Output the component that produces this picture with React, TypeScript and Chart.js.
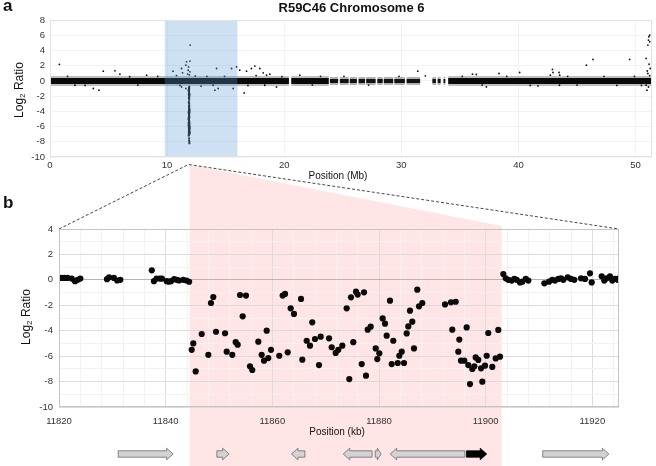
import React, { useEffect, useRef } from 'react';
import { Chart, registerables } from 'chart.js';
Chart.register(...registerables);

const FONT = "'Liberation Sans', Arial, Helvetica, sans-serif";
Chart.defaults.font.family = FONT;

// ---------- Panel a: whole chromosome 6 (Mb) ----------
const aXTicks = [0, 10, 20, 30, 40, 50];
const aYTicks = [-10, -8, -6, -4, -2, 0, 2, 4, 6, 8];
const aXMax = 51.4;
// dense probe coverage (log2 ~ 0) as segments [start, end] in Mb
const denseSegmentsMb: [number, number][] = [
  [0.0, 20.4], [20.6, 23.8], [34.0, 51.35],
];
const sparseSegmentsMb: [number, number][] = [
  [23.9, 24.6], [24.75, 25.5], [25.6, 26.2], [26.35, 26.9], [27.0, 27.8], [27.95, 28.4],
  [28.5, 29.3], [29.4, 30.3], [30.45, 31.6], [32.65, 32.95], [33.1, 33.35], [33.6, 33.75],
];
const outlierMb = [
  0.8, 4.55, 5.55, 5.97, 3.7, 4.18, 2.13, 8.25, 10.5, 11.23, 11.32, 11.6, 11.66, 11.83, 11.95, 11.95,
  11.97, 11.23, 11.6, 11.75, 11.8, 11.9, 13.93, 14.08, 14.22, 14.36, 15.5, 15.64, 15.93, 16.2, 16.58,
  16.78, 17.2, 17.49, 17.92, 18.2, 18.49, 18.77, 18.34, 19.34, 21.33, 31.4, 32.05, 36.07, 36.4, 37.26,
  38.34, 40.1, 41.67, 42.72, 42.9, 42.95, 43.46, 43.52, 43.5, 45.8, 46.36, 49.49, 50.9, 51.05, 51.13,
  51.2, 51.2, 51.1, 51.25, 51.05, 50.9, 50.97, 51.15, 51.0, 51.2, 51.1,
  1.5, 3.0, 6.8, 7.5, 9.2, 10.8, 11.1, 12.4, 12.9, 13.4, 14.9, 16.9, 17.6, 19.8, 22.4, 23.1, 25.1,
  27.2, 29.8, 35.2, 36.9, 39.0, 41.0, 44.2, 45.0, 47.3, 48.4, 49.9, 50.5,
];
const outlierLog2 = [
  2.16, 1.28, 1.32, 0.88, -1.0, -1.22, -0.57, 0.75, 1.28, 1.63, 1.06, 2.07, 2.5, 1.84, 1.19, 2.6,
  4.7, -0.79, -1.0, 0.9, 1.4, 0.8, -0.57, -1.22, 1.63, -1.0, 1.63, -1.0, 1.84, 1.41, -1.58,
  1.28, 1.63, 1.94, 1.63, 1.06, 0.75, 0.88, -0.57, -0.79, 0.75, 1.28, 0.66, 0.88, 0.84, -0.79,
  0.97, 1.1, -0.66, 0.75, 1.5, 1.1, 1.1, 0.75, -0.57, 2.07, 2.82, 2.82, 2.95, 4.7, 5.8,
  5.14, 6.0, 5.36, 1.63, 0.97, -0.57, -1.22, 2.2, 1.3, 0.7, -0.8,
  0.6, -0.6, 0.55, -0.55, 0.6, 0.7, -0.6, 0.65, -0.7, 0.6, 0.6, -0.6, 0.7, 0.55, -0.55, 0.6, 0.6,
  -0.55, 0.6, 0.6, -0.55, 0.6, -0.6, 0.6, -0.55, 0.6, -0.6, 0.6, -0.6,
];
const shadedStartMb = 9.8;
const shadedEndMb = 16.0;
const zoomAnchorMb = 11.82;

// ---------- Panel b: zoom (kb) ----------
const bXMin = 11820;
const bXMax = 11925;
const bYMin = -10;
const bYMax = 4;
const flankLeftKb = [
  11820.4, 11821.0, 11821.6, 11822.4, 11823.0, 11823.5, 11824.0,
  11829.0, 11829.4, 11830.3, 11830.9, 11831.5,
  11837.4, 11837.8, 11838.3, 11838.9, 11839.3, 11840.2, 11840.6, 11841.0, 11841.6, 11842.1, 11842.5,
  11843.3, 11843.9, 11844.4,
];
const flankLeftLog2 = [
  0.15, 0.15, 0.15, 0.1, -0.1, 0.0, 0.1,
  0.05, 0.2, 0.15, -0.05, 0.0,
  0.75, -0.1, 0.1, 0.1, 0.1, -0.1, -0.15, -0.1, 0.05, 0.0, -0.05,
  0.0, -0.05, -0.15,
];
const deletedKb = [
  11844.88, 11845.18, 11845.63, 11846.76, 11848.0, 11848.5, 11848.93, 11849.44, 11851.13, 11851.44,
  11852.49, 11853.13, 11853.5, 11853.94, 11854.44, 11855.06, 11855.81, 11856.24, 11857.37, 11858.0,
  11858.44, 11858.94, 11859.24, 11859.75, 11861.3, 11861.94, 11862.38, 11862.88, 11863.44, 11864.06,
  11865.38, 11865.62, 11866.44, 11867.06, 11867.49, 11868.0, 11868.75, 11869.07, 11870.63, 11871.13,
  11871.88, 11872.37, 11873.12, 11873.94, 11874.43, 11874.75, 11875.18, 11875.69, 11876.0, 11876.76,
  11877.19, 11877.56, 11877.88, 11878.44, 11879.38, 11879.68, 11880.06, 11880.69, 11881.13, 11881.44,
  11882.06, 11882.38, 11882.68, 11883.51, 11883.81, 11884.26, 11884.69, 11885.19, 11885.49, 11885.81,
  11886.24, 11886.56, 11887.18, 11887.5, 11888.12, 11892.38, 11893.5, 11893.74, 11894.38, 11894.87,
  11895.06, 11895.38, 11896.0, 11896.44, 11896.74, 11897.06, 11897.49, 11897.87, 11898.13, 11898.62,
  11899.13, 11899.37, 11899.88, 11900.19, 11900.49, 11901.24, 11901.88, 11902.37, 11902.69,
];
const deletedLog2 = [
  -5.5, -5.0, -7.2, -4.26, -5.9, -1.82, -1.35, -4.08, -4.2, -5.65,
  -5.9, -4.9, -5.1, -1.19, -2.87, -1.24, -6.8, -7.09, -4.86, -5.9,
  -6.36, -4.0, -6.15, -5.5, -5.97, -1.24, -1.11, -5.7, -2.24, -2.68,
  -1.5, -6.28, -4.79, -5.18, -3.34, -4.65, -6.7, -4.47, -4.6, -5.3,
  -5.75, -5.5, -5.18, -2.24, -7.8, -1.37, -4.9, -0.93, -1.16, -6.62,
  -0.98, -7.54, -3.92, -3.68, -5.39, -6.23, -5.78, -3.03, -3.45, -4.39,
  -1.64, -6.62, -4.79, -6.54, -5.97, -5.65, -6.54, -4.21, -3.66, -2.42,
  -3.29, -5.39, -0.77, -2.08, -1.82, -1.93, -1.77, -3.92, -1.72, -5.65,
  -4.7, -6.36, -6.36, -3.74, -6.7, -8.2, -7.01, -6.8, -6.1, -6.3,
  -6.96, -8.01, -6.75, -5.97, -4.18, -6.85, -6.18, -3.94, -6.04,
];
const flankRightKb = [
  11903.31, 11903.76, 11904.24, 11904.88, 11905.37, 11905.82, 11906.44, 11906.87, 11907.51, 11908.0,
  11911.0, 11911.88, 11912.49, 11913.0, 11913.62, 11914.13, 11914.56, 11915.38, 11916.0, 11916.62,
  11917.88, 11918.63, 11919.56, 11919.88, 11921.76, 11922.24, 11922.69, 11923.31, 11923.74, 11924.25,
  11924.76, 11925.0,
];
const flankRightLog2 = [
  0.46, 0.12, 0.0, -0.06, 0.07, 0.0, -0.2, -0.14, 0.07, -0.06,
  -0.27, -0.14, 0.0, -0.06, 0.07, 0.12, 0.0, 0.2, 0.07, 0.0,
  0.12, 0.07, 0.51, -0.2, 0.28, -0.06, 0.12, 0.28, -0.06, 0.07,
  0.0, 0.12,
];
const deletionStartKb = 11844.5;
const deletionEndKb = 11903.0;
// genes below panel b
const geneStartKb = [11831.1, 11849.6, 11863.6, 11873.3, 11879.3, 11882.1, 11896.4, 11910.7];
const geneEndKb = [11841.4, 11851.9, 11866.1, 11878.7, 11880.4, 11896.1, 11900.2, 11923.1];
const geneStrand = [1, 1, -1, -1, 1, -1, 1, 1];
const geneHighlighted = [false, false, false, false, false, false, true, false];

const W = 656;
const H = 466;

const range = (a: number, b: number, s: number) => {
  const out: number[] = [];
  for (let v = a; v <= b + 1e-9; v += s) out.push(v);
  return out;
};

const segData = (segs: [number, number][]) => {
  const d: any[] = [];
  segs.forEach(([s, e]) => {
    d.push({ x: s, y: 0 }, { x: e, y: 0 }, { x: e, y: null });
  });
  return d;
};
const pts = (xs: number[], ys: number[], k = 1) => xs.map((x, i) => ({ x: x * k, y: ys[i] }));

const framePlugin = (color: string) => ({
  id: 'frame',
  afterDraw(chart: any) {
    const { ctx, chartArea: a } = chart;
    ctx.save();
    ctx.strokeStyle = color;
    ctx.lineWidth = 1;
    ctx.strokeRect(a.left + 0.5, a.top + 0.5, a.right - a.left - 1, a.bottom - a.top - 1);
    ctx.restore();
  },
});

export default function App() {
  const bgRef = useRef<HTMLCanvasElement>(null);
  const aRef = useRef<HTMLCanvasElement>(null);
  const bRef = useRef<HTMLCanvasElement>(null);

  useEffect(() => {
    const shadePlugin = {
      id: 'shade',
      afterDatasetsDraw(chart: any) {
        const { ctx, chartArea: a, scales } = chart;
        const x1 = scales.x.getPixelForValue(shadedStartMb);
        const x2 = scales.x.getPixelForValue(shadedEndMb);
        ctx.save();
        ctx.fillStyle = 'rgba(91,155,213,0.3)';
        ctx.fillRect(x1, a.top, x2 - x1, a.bottom - a.top);
        ctx.restore();
      },
    };
    const tickFont = { size: 9.5 };
    const band = (segs: [number, number][], color: string, width: number) => ({
      type: 'line', data: segData(segs), borderColor: color, borderWidth: width,
      borderCapStyle: 'butt', pointRadius: 0, spanGaps: false,
    } as any);
    const chartA = new Chart(aRef.current!, {
      type: 'scatter',
      data: {
        datasets: [
          band(denseSegmentsMb, 'rgba(0,0,0,0.25)', 10),
          band(denseSegmentsMb, '#0d0d0d', 6),
          band(sparseSegmentsMb, 'rgba(0,0,0,0.3)', 8),
          band(sparseSegmentsMb, '#1a1a1a', 4),
          { data: pts(outlierMb, outlierLog2), pointRadius: 0.9, backgroundColor: '#111', borderWidth: 0 },
          { data: pts(deletedKb, deletedLog2, 0.001), pointRadius: 1.1, backgroundColor: '#111', borderWidth: 0 },
        ],
      },
      options: {
        responsive: false, animation: false,
        layout: { padding: { top: 20, right: 4, bottom: H - 185, left: 0 } },
        plugins: { legend: { display: false }, tooltip: { enabled: false } },
        scales: {
          x: {
            type: 'linear', min: 0, max: aXMax,
            afterBuildTicks: (s: any) => { s.ticks = aXTicks.map((v) => ({ value: v })); },
            afterFit: (s: any) => { s.height = 28; },
            grid: { color: '#f3f3f3', drawTicks: false },
            border: { display: false },
            ticks: { padding: 3, font: tickFont, color: '#333', maxRotation: 0, autoSkip: false, callback: (v: any) => String(v) },
          },
          y: {
            min: -10, max: 8,
            afterBuildTicks: (s: any) => { s.ticks = aYTicks.map((v) => ({ value: v })); },
            afterFit: (s: any) => { s.width = 50; },
            grid: { color: '#f3f3f3', drawTicks: false },
            border: { display: false },
            ticks: { padding: 5, font: tickFont, color: '#333', autoSkip: false, callback: (v: any) => String(v) },
          },
        },
      },
      plugins: [shadePlugin, framePlugin('#e2e2e2')],
    });

    const genePlugin = {
      id: 'genes',
      afterDraw(chart: any) {
        const { ctx, scales } = chart;
        const yc = 454;
        const bodyH = 3.2;
        const headH = 5.8;
        geneStartKb.forEach((s, i) => {
          const x1 = scales.x.getPixelForValue(s);
          const x2 = scales.x.getPixelForValue(geneEndKb[i]);
          const len = x2 - x1;
          const head = Math.min(6.5, len * 0.65);
          ctx.save();
          ctx.beginPath();
          if (geneStrand[i] > 0) {
            const hb = x2 - head;
            ctx.moveTo(x1, yc - bodyH);
            ctx.lineTo(hb, yc - bodyH);
            ctx.lineTo(hb, yc - headH);
            ctx.lineTo(x2, yc);
            ctx.lineTo(hb, yc + headH);
            ctx.lineTo(hb, yc + bodyH);
            ctx.lineTo(x1, yc + bodyH);
          } else {
            const hb = x1 + head;
            ctx.moveTo(x2, yc - bodyH);
            ctx.lineTo(hb, yc - bodyH);
            ctx.lineTo(hb, yc - headH);
            ctx.lineTo(x1, yc);
            ctx.lineTo(hb, yc + headH);
            ctx.lineTo(hb, yc + bodyH);
            ctx.lineTo(x2, yc + bodyH);
          }
          ctx.closePath();
          ctx.fillStyle = geneHighlighted[i] ? '#000' : '#d3d3d3';
          ctx.fill();
          ctx.strokeStyle = geneHighlighted[i] ? '#000' : '#6a6a6a';
          ctx.lineWidth = 0.8;
          ctx.stroke();
          ctx.restore();
        });
      },
    };

    const bYTicks = range(bYMin, bYMax, 1);
    const bXTicks = range(bXMin, bXMax - 1, 4);
    const dot = { pointRadius: 3.1, backgroundColor: '#0a0a0a', borderWidth: 0 };
    const chartB = new Chart(bRef.current!, {
      type: 'scatter',
      data: {
        datasets: [
          { data: pts(flankLeftKb, flankLeftLog2), ...dot },
          { data: pts(deletedKb, deletedLog2), ...dot },
          { data: pts(flankRightKb, flankRightLog2), ...dot },
        ],
      },
      options: {
        responsive: false, animation: false,
        layout: { padding: { top: 229, right: W - 619, bottom: 0, left: 0 } },
        plugins: { legend: { display: false }, tooltip: { enabled: false } },
        scales: {
          x: {
            type: 'linear', min: bXMin, max: bXMax,
            afterBuildTicks: (s: any) => { s.ticks = bXTicks.map((v) => ({ value: v })); },
            afterFit: (s: any) => { s.height = H - 407; },
            grid: {
              drawTicks: false,
              color: (c: any) => (c.tick && c.tick.value % 20 === 0 ? '#dddddd' : '#f2f2f2'),
            },
            border: { display: false },
            ticks: {
              padding: 9, font: tickFont, color: '#333', maxRotation: 0, autoSkip: false,
              callback: (v: any) => (v % 20 === 0 ? String(v) : ''),
            },
          },
          y: {
            min: bYMin, max: bYMax,
            afterBuildTicks: (s: any) => { s.ticks = bYTicks.map((v) => ({ value: v })); },
            afterFit: (s: any) => { s.width = 59; },
            grid: {
              drawTicks: false,
              color: (c: any) => {
                const v = c.tick ? c.tick.value : 1;
                if (v === 0) return '#b5b5b5';
                return v % 2 === 0 ? '#dcdcdc' : '#f2f2f2';
              },
            },
            border: { display: false },
            ticks: {
              padding: 6, font: tickFont, color: '#333', autoSkip: false,
              callback: (v: any) => (v % 2 === 0 ? String(v) : ''),
            },
          },
        },
      },
      plugins: [framePlugin('#c4c4c4'), genePlugin],
    });

    // background: highlighted deletion and zoom connector
    const bg = bgRef.current!;
    const ctx = bg.getContext('2d')!;
    ctx.clearRect(0, 0, W, H);
    const ax = chartA.scales.x.getPixelForValue(zoomAnchorMb);
    const ay = chartA.chartArea.bottom + 7.5;
    const bA = chartB.chartArea;
    const pL = chartB.scales.x.getPixelForValue(deletionStartKb);
    const pR = chartB.scales.x.getPixelForValue(deletionEndKb);
    ctx.fillStyle = 'rgba(255,0,0,0.1)';
    ctx.beginPath();
    ctx.moveTo(ax, ay);
    ctx.lineTo(pR, bA.top - 3);
    ctx.lineTo(pR, H);
    ctx.lineTo(pL, H);
    ctx.lineTo(pL, ay);
    ctx.closePath();
    ctx.fill();
    ctx.strokeStyle = '#333';
    ctx.lineWidth = 0.9;
    ctx.setLineDash([3, 2]);
    ctx.beginPath();
    ctx.moveTo(bA.left, bA.top);
    ctx.lineTo(ax, ay);
    ctx.lineTo(bA.right, bA.top);
    ctx.stroke();

    return () => {
      chartA.destroy();
      chartB.destroy();
    };
  }, []);

  const abs: React.CSSProperties = { position: 'absolute', left: 0, top: 0 };
  const txt: React.CSSProperties = { position: 'absolute', fontFamily: FONT, color: '#111', whiteSpace: 'nowrap' };
  const rot = (cx: number, cy: number): React.CSSProperties => ({
    ...txt, left: cx, top: cy, fontSize: 12, lineHeight: '14px',
    transform: 'translate(-50%, -50%) rotate(-90deg)',
  });
  const center = (cx: number, cy: number, size: number): React.CSSProperties => ({
    ...txt, left: cx, top: cy, fontSize: size, lineHeight: `${size + 2}px`, transform: 'translate(-50%, -50%)',
  });
  const ylab = (
    <>
      Log<sub style={{ fontSize: 8, verticalAlign: -2 }}>2</sub> Ratio
    </>
  );

  return (
    <div style={{ position: 'fixed', left: 0, top: 0, width: W, height: H, background: '#fff', overflow: 'hidden' }}>
      <canvas ref={bgRef} width={W} height={H} style={{ ...abs, width: W, height: H }} />
      <canvas ref={aRef} width={W} height={H} style={{ ...abs, width: W, height: H }} />
      <canvas ref={bRef} width={W} height={H} style={{ ...abs, width: W, height: H }} />
      <div style={{ ...txt, left: 3, top: -3, fontSize: 17, lineHeight: '17px', fontWeight: 'bold' }}>a</div>
      <div style={{ ...txt, left: 3, top: 194, fontSize: 17, lineHeight: '17px', fontWeight: 'bold' }}>b</div>
      <div style={{ ...center(351.5, 6.5, 13), fontWeight: 'bold' }}>R59C46 Chromosome 6</div>
      <div style={rot(21, 90)}>{ylab}</div>
      <div style={rot(28, 317)}>{ylab}</div>
      <div style={center(338, 175.5, 10)}>Position (Mb)</div>
      <div style={center(337, 432, 10)}>Position (kb)</div>
    </div>
  );
}
